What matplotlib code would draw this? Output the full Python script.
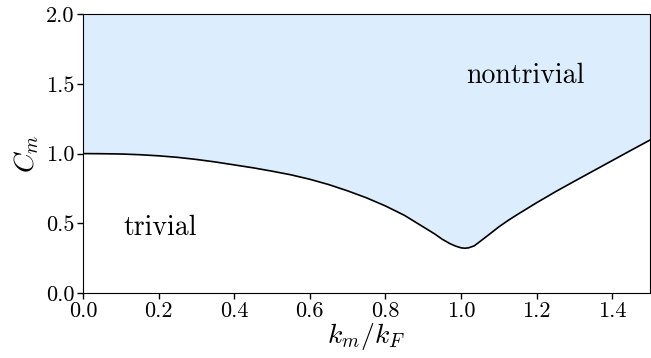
import matplotlib
matplotlib.use("Agg")
import matplotlib.pyplot as plt

plt.rcParams['font.family'] = 'serif'
plt.rcParams['font.serif'] = ['cmr10']
plt.rcParams['mathtext.fontset'] = 'cm'
plt.rcParams['axes.unicode_minus'] = False
plt.rcParams['axes.formatter.use_mathtext'] = True

# Phase boundary C_m(k_m/k_F)
km_over_kF = [0.0, 0.05, 0.1, 0.15, 0.2, 0.25, 0.3, 0.35, 0.4, 0.45, 0.5,
              0.55, 0.6, 0.65, 0.7, 0.75, 0.8, 0.85, 0.9, 0.93, 0.95, 0.97,
              0.985, 1.0, 1.01, 1.02, 1.035, 1.05, 1.075, 1.1, 1.125, 1.15,
              1.2, 1.25, 1.3, 1.35, 1.4, 1.45, 1.5]
C_m = [1.0, 0.999, 0.997, 0.992, 0.984, 0.973, 0.958, 0.94, 0.919, 0.898,
       0.874, 0.848, 0.816, 0.778, 0.733, 0.683, 0.625, 0.558, 0.475, 0.425,
       0.387, 0.356, 0.338, 0.325, 0.322, 0.325, 0.339, 0.37, 0.422, 0.475,
       0.522, 0.565, 0.648, 0.727, 0.802, 0.876, 0.95, 1.024, 1.097]
y_top = 2.0

xticks = [0.0, 0.2, 0.4, 0.6, 0.8, 1.0, 1.2, 1.4]
yticks = [0.0, 0.5, 1.0, 1.5, 2.0]

fig = plt.figure(figsize=(6.51, 3.58), dpi=100)
ax = fig.add_axes([0.1275, 0.181, 0.871, 0.78])

ax.fill_between(km_over_kF, C_m, y_top, color='#dcedfd', lw=0)
ax.plot(km_over_kF, C_m, color='black', lw=1.2)

ax.set_xlim(0, 1.5)
ax.set_ylim(0, 2.0)
ax.set_xticks(xticks)
ax.set_yticks(yticks)
ax.set_xticklabels([f"{t:.1f}" for t in xticks])
ax.set_yticklabels([f"{t:.1f}" for t in yticks])
ax.tick_params(labelsize=16, length=4, width=1, pad=2)

ax.set_xlabel(r'$k_m/k_F$', fontsize=20, labelpad=0)
ax.set_ylabel(r'$C_m$', fontsize=20, labelpad=4)

ax.text(1.17, 1.56, 'nontrivial', fontsize=20, ha='center', va='center')
ax.text(0.205, 0.47, 'trivial', fontsize=20, ha='center', va='center')

fig.savefig('out.png', dpi=100)
